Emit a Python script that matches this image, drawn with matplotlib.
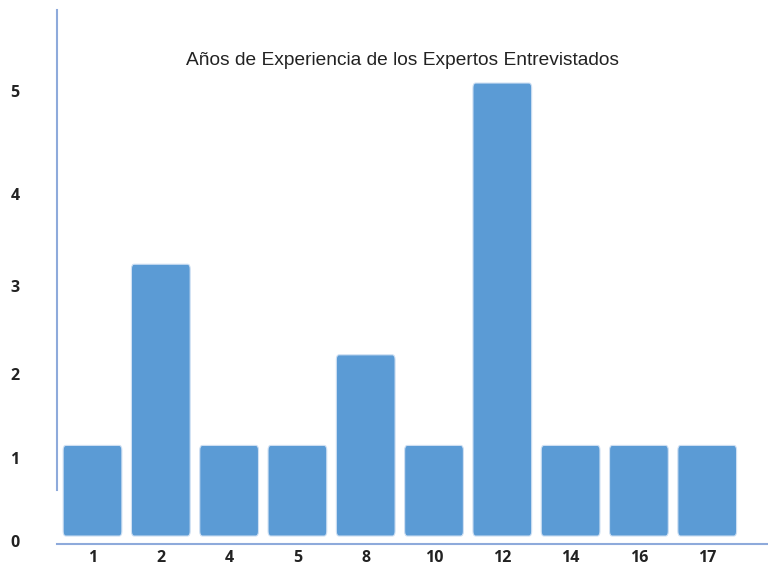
import matplotlib
matplotlib.use("Agg")
import matplotlib.pyplot as plt
from matplotlib.patches import FancyBboxPatch

# ── Datos ──────────────────────────────────────────────
anios = ["1", "2", "4", "5", "8", "10", "12", "14", "16", "17"]
expertos = [1, 3, 1, 1, 2, 1, 5, 1, 1, 1]

# etiquetas del eje y tal como aparecen (algo desplazadas)
ytick_pos = [-0.055, 0.86, 1.79, 2.76, 3.77, 4.91]
ytick_lab = ["0", "1", "2", "3", "4", "5"]

AZUL = "#5b9bd5"
EJE = "#8eaadb"

W, H = 768, 567
fig = plt.figure(figsize=(W / 100, H / 100), dpi=100)
ax = fig.add_axes([57 / W, 1 - 544 / H, 1 - 57 / W, (544 - 10) / H])

x = list(range(len(anios)))
ancho = 0.86
for xi, v in zip(x, expertos):
    caja = FancyBboxPatch((xi - ancho / 2, 0), ancho, v,
                          boxstyle="round,pad=0,rounding_size=0.04",
                          mutation_aspect=1.3,
                          facecolor=AZUL, edgecolor="#cfe0f3", linewidth=0.8)
    ax.add_patch(caja)

ax.set_xlim(-0.52, 9.89)
ax.set_ylim(-0.088, 5.806)

ax.set_xticks(x)
ax.set_xticklabels(anios)
ax.set_yticks(ytick_pos)
ax.set_yticklabels(ytick_lab)
for lab in ax.get_xticklabels() + ax.get_yticklabels():
    lab.set_fontfamily("Open Sans")
    lab.set_fontweight("bold")
    lab.set_fontsize(11.5)
    lab.set_color("#222222")
ax.tick_params(axis="x", length=0, pad=4)
ax.tick_params(axis="y", length=0, pad=27)

for s in ["top", "right"]:
    ax.spines[s].set_visible(False)
ax.spines["left"].set_color(EJE)
ax.spines["left"].set_linewidth(1.5)
ax.spines["left"].set_bounds(0.51, 5.806)
ax.spines["bottom"].set_color(EJE)
ax.spines["bottom"].set_linewidth(1.5)

fig.text(402 / W, 1 - 61 / H, "Años de Experiencia de los Expertos Entrevistados",
         ha="center", va="center", fontsize=13.8, family="Liberation Sans",
         color="#222222")

fig.savefig("out.png", dpi=100)
